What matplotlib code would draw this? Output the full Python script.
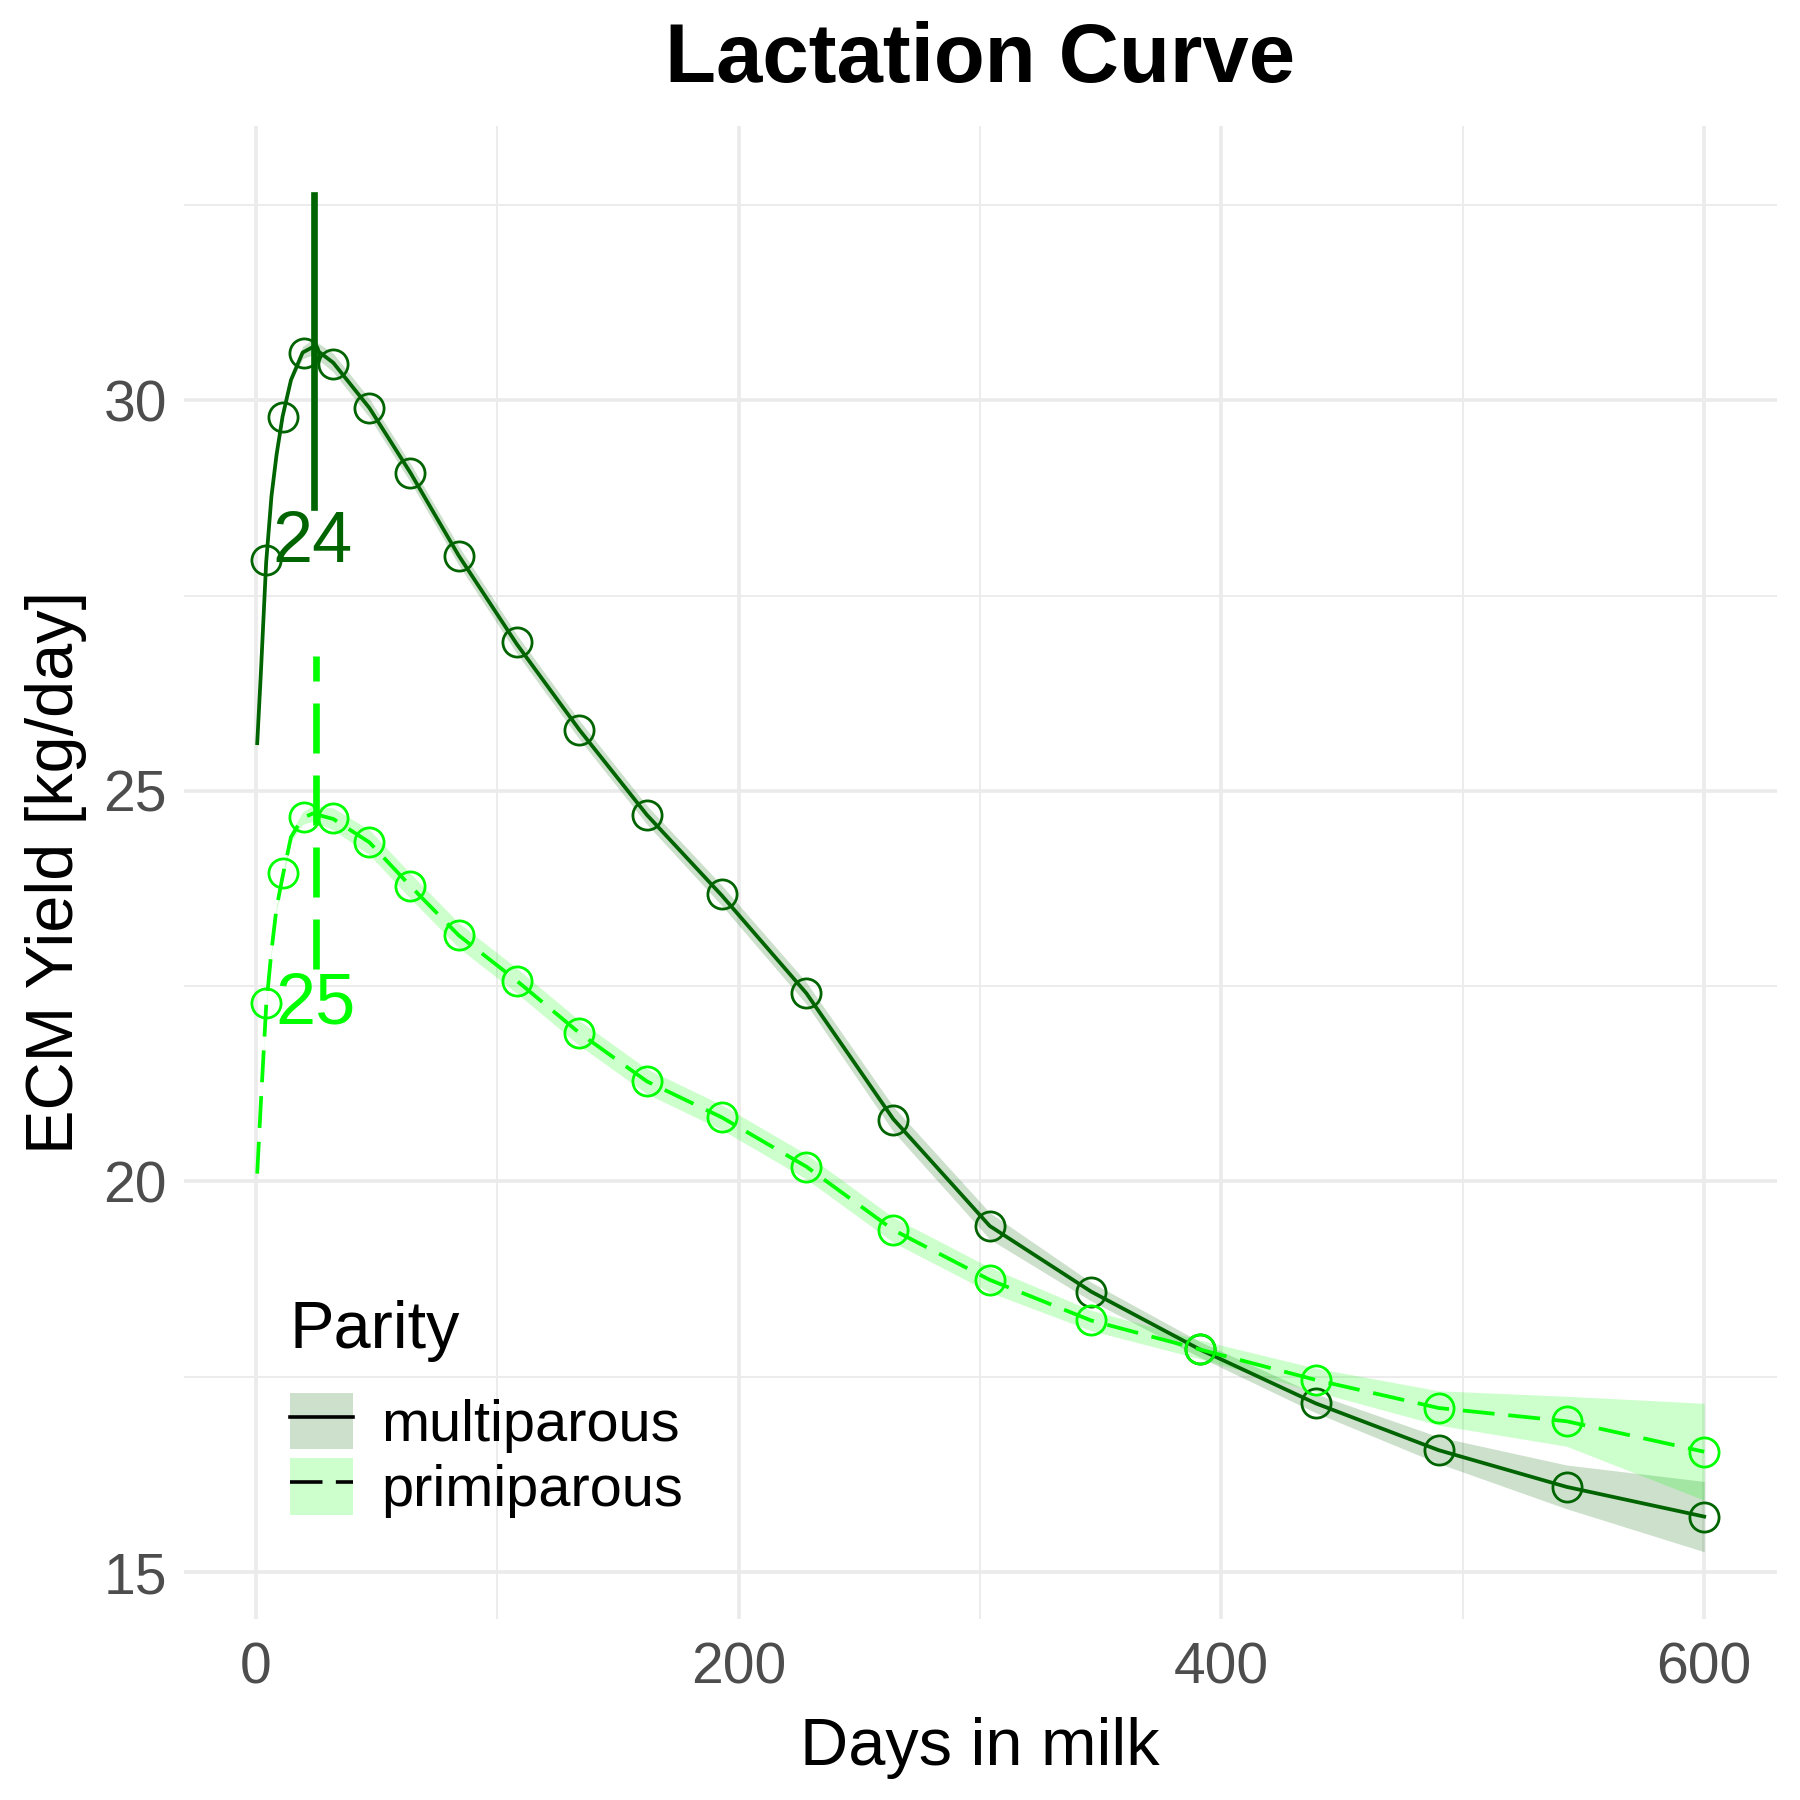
import matplotlib
matplotlib.use("Agg")
import matplotlib.pyplot as plt
from matplotlib.patches import Patch
from matplotlib.lines import Line2D
from matplotlib.ticker import MultipleLocator

plt.rcParams['font.family'] = ['Liberation Sans', 'DejaVu Sans']

# observed means per lactation stage
point_days = [4, 11, 20, 32, 47, 64, 84, 108, 134, 162, 193, 228, 264, 304,
              346, 391, 439, 490, 543, 600]
multi_points = [27.96, 29.79, 30.60, 30.46, 29.90, 29.07, 28.01, 26.90, 25.78,
                24.69, 23.68, 22.41, 20.79, 19.43, 18.59, 17.85, 17.16, 16.56,
                16.09, 15.71]
primi_points = [22.29, 23.95, 24.66, 24.65, 24.34, 23.78, 23.15, 22.57, 21.90,
                21.28, 20.82, 20.19, 19.38, 18.74, 18.22, 17.85, 17.46, 17.10,
                16.93, 16.54]

# fitted curves and their confidence half-widths
curve_days = [0.5, 2, 4.2, 6.4, 8.5, 11, 14.5, 19.3, 23.5, 32, 47, 64, 84, 108,
              134, 162, 193, 228, 264, 304, 346, 391, 439, 490, 543, 600]
multi_curve = [25.61, 26.5, 27.92, 28.77, 29.3, 29.79, 30.26, 30.61, 30.68,
               30.48, 29.90, 29.07, 28.01, 26.88, 25.78, 24.69, 23.66, 22.41,
               20.80, 19.43, 18.59, 17.85, 17.16, 16.56, 16.09, 15.71]
multi_se = [0, 0, 0, 0, 0, 0, 0.03, 0.08, 0.1, 0.12, 0.12, 0.12, 0.12, 0.12,
            0.12, 0.12, 0.13, 0.14, 0.16, 0.17, 0.12, 0.1, 0.12, 0.17, 0.28, 0.45]
primi_curve = [20.10, 21.0, 22.24, 22.95, 23.5, 23.90, 24.41, 24.65, 24.71,
               24.64, 24.34, 23.78, 23.15, 22.57, 21.90, 21.28, 20.82, 20.19,
               19.38, 18.74, 18.22, 17.85, 17.46, 17.10, 16.93, 16.54]
primi_se = [0.03, 0.03, 0.04, 0.04, 0.04, 0.05, 0.06, 0.08, 0.1, 0.14, 0.16,
            0.16, 0.16, 0.16, 0.16, 0.16, 0.16, 0.16, 0.16, 0.16, 0.13, 0.12,
            0.15, 0.22, 0.32, 0.62]

# day of peak yield per parity group
peak_days = [24, 25]
peak_yields = [30.63, 24.72]

groups = ["multiparous", "primiparous"]
colors = ["#006400", "#00FF00"]
fills = ["#CCE0CC", "#CCFFCC"]
dash = (8.5, 3.7)

fig = plt.figure(figsize=(9, 9), dpi=200)
ax = fig.add_axes([0.102, 0.1006, 0.885, 0.8294])

curves = [multi_curve, primi_curve]
ses = [multi_se, primi_se]
points = [multi_points, primi_points]

for i in range(2):
    lo = [c - s for c, s in zip(curves[i], ses[i])]
    hi = [c + s for c, s in zip(curves[i], ses[i])]
    ax.fill_between(curve_days, lo, hi, color=colors[i], alpha=0.2,
                    linewidth=0, zorder=2)

for i in range(2):
    line, = ax.plot(curve_days, curves[i], color=colors[i], lw=1.35, zorder=3)
    if i == 1:
        line.set_dashes(dash)
    ax.plot(point_days, points[i], linestyle='none', marker='o',
            markersize=10.5, markerfacecolor='none', markeredgecolor=colors[i],
            markeredgewidth=1.0, zorder=4)

# peak markers
for i in range(2):
    seg, = ax.plot([peak_days[i], peak_days[i]],
                   [peak_yields[i] - 2, peak_yields[i] + 2],
                   color=colors[i], lw=2.4, zorder=5)
    if i == 1:
        seg.set_dashes((7.5, 3.3))
    ax.text(peak_days[i] - 0.5, peak_yields[i] - 2.03, str(peak_days[i]),
            color=colors[i], fontsize=26, ha='center', va='top', zorder=6)

ax.set_xlim(-30, 630)
ax.set_ylim(14.40, 33.51)
ax.xaxis.set_major_locator(MultipleLocator(200))
ax.xaxis.set_minor_locator(MultipleLocator(100))
ax.yaxis.set_major_locator(MultipleLocator(5))
ax.yaxis.set_minor_locator(MultipleLocator(2.5))
ax.grid(which='major', color='#EBEBEB', lw=1.3)
ax.grid(which='minor', color='#EBEBEB', lw=0.65)
ax.set_axisbelow(True)
for s in ax.spines.values():
    s.set_visible(False)
ax.tick_params(which='both', length=0, labelsize=20.5, labelcolor='#4D4D4D')
ax.tick_params(axis='x', pad=8)
ax.tick_params(axis='y', pad=6)

ax.set_xlabel("Days in milk", fontsize=24, labelpad=8)
ax.set_ylabel("ECM Yield [kg/day]", fontsize=24, labelpad=6)
ax.set_title("Lactation Curve", fontsize=30, fontweight='bold', pad=16)

handles = []
for i in range(2):
    patch = Patch(facecolor=fills[i], edgecolor='none')
    ln = Line2D([], [], color='black', lw=1.3)
    if i == 1:
        ln.set_dashes((9, 3.7))
    handles.append((patch, ln))
leg = ax.legend(handles, groups, loc='lower left',
                bbox_to_anchor=(0.0667, 0.0674), frameon=False, fontsize=20.8,
                handlelength=1.1, handleheight=1.13, handletextpad=0.48,
                labelspacing=0.1, borderpad=0, borderaxespad=0)
ax.text(0.0667, 0.1815, "Parity", transform=ax.transAxes, fontsize=24,
        ha='left', va='baseline')

fig.savefig("out.png", dpi=200)
